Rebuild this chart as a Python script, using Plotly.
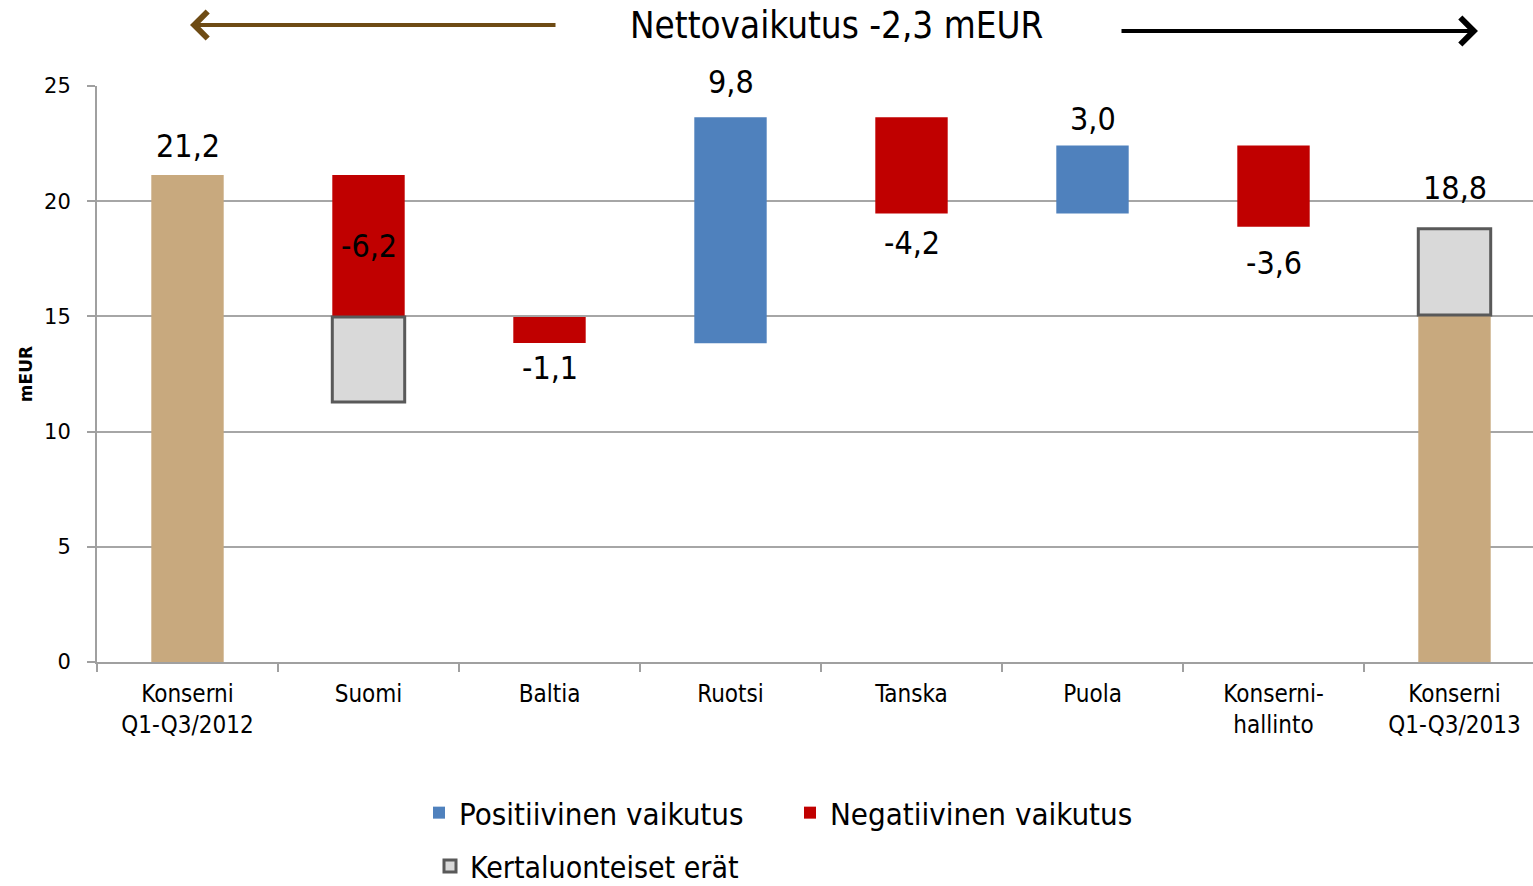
import plotly.graph_objects as go

# ---- data ----
categories = ["Konserni<br>Q1-Q3/2012", "Suomi", "Baltia", "Ruotsi", "Tanska",
              "Puola", "Konserni-<br>hallinto", "Konserni<br>Q1-Q3/2013"]

total_start = [0, None, None, None, None, None, None, 0]
total_end = [21.14, None, None, None, None, None, None, 15.06]

pos_start = [None, None, None, 13.84, None, 19.47, None, None]
pos_end = [None, None, None, 23.64, None, 22.42, None, None]

neg_start = [None, 21.14, 14.97, None, 23.64, None, 22.42, None]
neg_end = [None, 14.97, 13.85, None, 19.47, None, 18.89, None]

one_off_start = [None, 14.97, None, None, None, None, None, 15.06]
one_off_end = [None, 11.28, None, None, None, None, None, 18.80]

label_text = ["21,2", "-6,2", "-1,1", "9,8", "-4,2", "3,0", "-3,6", "18,8"]

title_text = "Nettovaikutus -2,3 mEUR"
y_ticks = [0, 5, 10, 15, 20, 25]

# ---- styling ----
FONT = "DejaVu Sans Condensed, Liberation Sans Narrow, Arial Narrow, sans-serif"
FONT_REG = "DejaVu Sans, Verdana, sans-serif"
label_mode = ["above", "inside", "below", "above", "below", "above", "below", "above"]
label_shift = [29, 0, -25, 35, -30, 26, -36, 41]

W, H = 1533, 886
L, R, T, B = 97, 0, 86, 224
cat_px = 181.0
plot_w = W - L - R
x_max = plot_w / cat_px - 0.5


def bar_parts(s, e):
    base = [None if a is None else min(a, b) for a, b in zip(s, e)]
    h = [None if a is None else abs(b - a) for a, b in zip(s, e)]
    return base, h


fig = go.Figure()

b, h = bar_parts(total_start, total_end)
fig.add_trace(go.Bar(x=categories, y=h, base=b, marker=dict(color="#C8A97E", line=dict(width=0)),
                     width=0.4, showlegend=False, name="Konserni"))
b, h = bar_parts(pos_start, pos_end)
fig.add_trace(go.Bar(x=categories, y=h, base=b, marker=dict(color="#4F81BD", line=dict(width=0)),
                     width=0.4, name="Positiivinen vaikutus", legend="legend"))
b, h = bar_parts(neg_start, neg_end)
fig.add_trace(go.Bar(x=categories, y=h, base=b, marker=dict(color="#C00000", line=dict(width=0)),
                     width=0.4, name="Negatiivinen vaikutus", legend="legend"))
b, h = bar_parts(one_off_start, one_off_end)
fig.add_trace(go.Bar(x=categories, y=h, base=b,
                     marker=dict(color="#D9D9D9", line=dict(color="#595959", width=3)),
                     width=0.4, name="Kertaluonteiset erät", legend="legend2"))

# value labels
series = [(total_start, total_end), (pos_start, pos_end), (neg_start, neg_end), (one_off_start, one_off_end)]
for i, cat in enumerate(categories):
    vals = []
    for s, e in series:
        if s[i] is not None:
            vals += [s[i], e[i]]
    if label_mode[i] == "above":
        yv = max(vals)
    elif label_mode[i] == "below":
        yv = min(vals)
    else:
        yv = (neg_start[i] + neg_end[i]) / 2
    fig.add_annotation(x=cat, y=yv, xref="x", yref="y", text=label_text[i], showarrow=False,
                       yanchor="middle", xanchor="center", yshift=label_shift[i],
                       font=dict(family=FONT, size=32, color="#000000"))


def px_x(p):
    return (p - L) / plot_w


def px_y(p):
    return (H - B - p) / (H - T - B)


# title and arrows
fig.add_annotation(x=px_x(836), y=px_y(25), xref="paper", yref="paper", text=title_text,
                   showarrow=False, xanchor="center", yanchor="middle",
                   font=dict(family=FONT, size=36.5, color="#000000"))
fig.add_annotation(x=px_x(190), y=px_y(25), xref="paper", yref="paper", text="",
                   showarrow=True, ax=367, ay=0, axref="pixel", ayref="pixel",
                   arrowhead=4, arrowsize=1.3, arrowwidth=4, arrowcolor="#6E4B14")
fig.add_annotation(x=px_x(1478), y=px_y(31), xref="paper", yref="paper", text="",
                   showarrow=True, ax=-358, ay=0, axref="pixel", ayref="pixel",
                   arrowhead=4, arrowsize=1.3, arrowwidth=4, arrowcolor="#000000")

fig.update_layout(
    width=W, height=H,
    margin=dict(l=L, r=R, t=T, b=B, pad=0, autoexpand=False),
    paper_bgcolor="white", plot_bgcolor="white",
    barmode="overlay",
    font=dict(family=FONT, color="#000000"),
    legend=dict(orientation="h", x=px_x(419), y=px_y(813), xanchor="left", yanchor="middle",
                font=dict(family=FONT, size=31, color="#000000"), bgcolor="rgba(0,0,0,0)",
                traceorder="normal", entrywidth=326),
    legend2=dict(orientation="h", x=px_x(430), y=px_y(866), xanchor="left", yanchor="middle",
                 font=dict(family=FONT, size=30, color="#000000"), bgcolor="rgba(0,0,0,0)"),
    xaxis=dict(type="category", range=[-0.5, x_max], tickson="boundaries",
               ticks="outside", ticklen=8, tickcolor="#A0A0A0", tickwidth=2,
               showline=True, linecolor="#A0A0A0", linewidth=2, showgrid=False,
               automargin=False, ticklabelstandoff=9,
               tickfont=dict(family=FONT, size=24, color="#000000"), fixedrange=True),
    yaxis=dict(range=[0, 25], tickvals=y_ticks, ticks="outside", ticklen=8,
               tickcolor="#A0A0A0", tickwidth=2, showline=True, linecolor="#A0A0A0",
               linewidth=2, gridcolor="#A6A6A6", gridwidth=1.5, zeroline=False,
               automargin=False, ticklabelstandoff=12,
               tickfont=dict(family=FONT_REG, size=21, color="#000000"),
               title=dict(text="<b>mEUR</b>", font=dict(family=FONT_REG, size=17, color="#000000"),
                          standoff=7)),
)

fig.write_html("out.html",
               config={"displayModeBar": False},
               post_script="document.documentElement.style.margin='0';"
                           "document.body.style.margin='0';"
                           "document.body.style.overflow='hidden';")
